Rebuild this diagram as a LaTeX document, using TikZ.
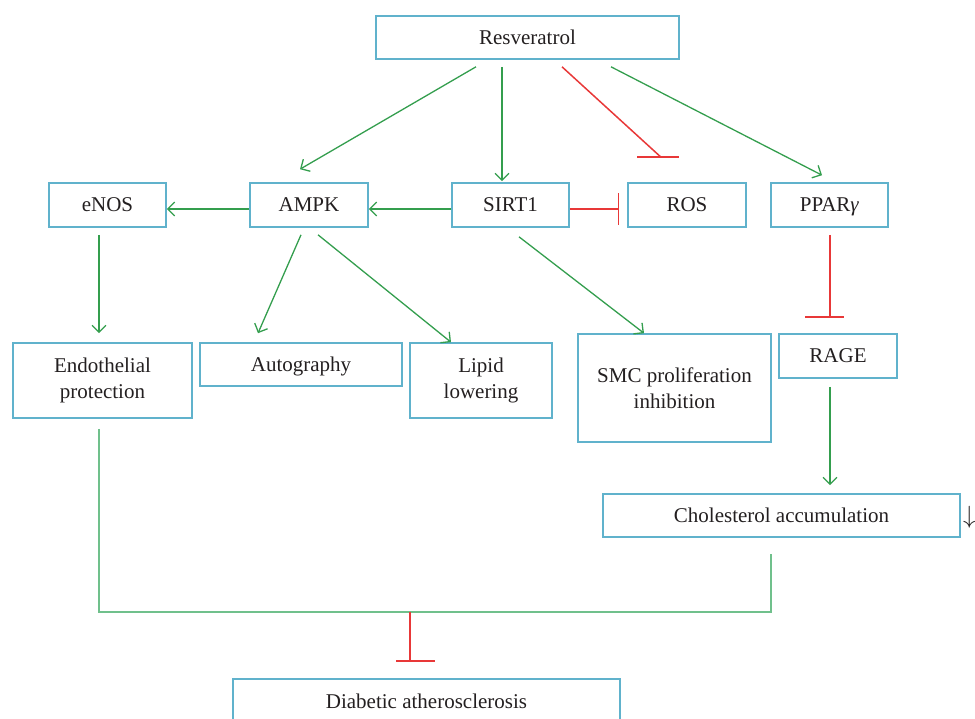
\documentclass[tikz,border=0pt]{standalone}
\usepackage{fontspec}
\setmainfont{Liberation Serif}
\usetikzlibrary{arrows.meta,calc}
\definecolor{boxc}{RGB}{96,178,204}
\definecolor{grn}{RGB}{52,158,78}
\definecolor{grnl}{RGB}{112,192,140}
\definecolor{rd}{RGB}{232,56,56}
\definecolor{txt}{RGB}{35,31,32}
\newcommand{\nodepth}[1]{\raisebox{0pt}[\height][0pt]{#1}}
\tikzset{
  box/.style={draw=boxc, line width=1.6pt, inner sep=0pt, align=center, text=txt,
    font=\fontsize{21}{26}\selectfont},
  ga/.style={draw=grn, line width=1.3pt, -{Straight Barb[length=7pt,width=14pt,line width=1.3pt]}},
  ri/.style={draw=rd, line width=1.5pt},
  rbar/.style={draw=rd, line width=1.5pt, -{Bar[width=32pt,line width=1.5pt]}},
  brk/.style={draw=grnl, line width=2pt},
}
\begin{document}
\begin{tikzpicture}[x=1pt,y=-1pt]
\useasboundingbox (0,0) rectangle (975,718);
\node[box, minimum width=303pt, minimum height=43pt] (res) at (527.5,37.5) {Resveratrol};
\node[box, minimum width=117pt, minimum height=44pt] (enos) at (107.5,205) {eNOS};
\node[box, minimum width=118pt, minimum height=44pt] (ampk) at (309,205) {AMPK};
\node[box, minimum width=117pt, minimum height=44pt] (sirt) at (510.5,205) {SIRT1};
\node[box, minimum width=118pt, minimum height=44pt] (ros) at (687,205) {ROS};
\node[box, minimum width=117pt, minimum height=44pt] (ppar) at (829.5,205) {\nodepth{PPAR\textit{γ}}};
\node[box, minimum width=179pt, minimum height=75pt] (endo) at (102.5,380.5) {Endothelial\\protection};
\node[box, minimum width=202pt, minimum height=43pt] (auto) at (301,364.5) {\nodepth{Autography}};
\node[box, minimum width=142pt, minimum height=75pt] (lipid) at (481,380.5) {Lipid\\lowering};
\node[box, minimum width=193pt, minimum height=108pt] (smc) at (674.5,388) {SMC proliferation\\inhibition};
\node[box, minimum width=118pt, minimum height=44pt] (rage) at (838,356) {RAGE};
\node[box, minimum width=357pt, minimum height=43pt] (chol) at (781.5,515.5) {Cholesterol accumulation};
\node[box, minimum width=387pt, minimum height=44pt] (diab) at (426.5,701) {Diabetic atherosclerosis};
\node[text=txt, font=\fontsize{24}{26}\selectfont, inner sep=0pt, anchor=west] (down) at ($(chol.east)+(2,2)$) {$\downarrow$};

% Resveratrol connectors
\draw[ga] ($(res.south)+(-51.5,7)$) -- ($(ampk.north)+(-9,-13)$);
\draw[ga] ($(res.south)+(-25.5,7)$) -- ($(sirt.north)+(-8.5,-1)$);
\coordinate (rosbar) at ($(ros.north)+(-26,-25)$);
\draw[ri] ($(res.south)+(34.5,7)$) -- (rosbar);
\draw[ri] ($(rosbar)+(-24,0)$) -- ($(rosbar)+(18,0)$);
\draw[ga] ($(res.south)+(83.5,7)$) -- ($(ppar.north)+(-7.5,-7)$);

% horizontal row
\draw[ga] ($(sirt.west)+(0,4)$) -- ($(ampk.east)+(0,4)$);
\draw[ga] ($(ampk.west)+(0,4)$) -- ($(enos.east)+(0,4)$);
\draw[rbar] ($(sirt.east)+(0,4)$) -- ($(ros.west)+(-8,4)$);

% second level
\draw[ga] ($(enos.south)+(-8.5,7)$) -- ($(endo.north)+(-3.5,-9)$);
\draw[ga] ($(ampk.south)+(-8,7)$) -- ($(auto.north)+(-43,-9)$);
\draw[ga] ($(ampk.south)+(9,7)$) -- ($(lipid.north)+(-30,0)$);
\draw[ga] ($(sirt.south)+(8.5,9)$) -- ($(smc.north)+(-30.5,0)$);
\coordinate (ragebar) at ($(rage.north)+(-8,-16)$);
\draw[ri] ($(ppar.south)+(0.5,7)$) -- (ragebar);
\draw[ri] ($(ragebar)+(-25,0)$) -- ($(ragebar)+(14,0)$);
\draw[ga] ($(rage.south)+(-8,8)$) -- ($(chol.north)+(48.5,-8)$);

% bracket
\coordinate (jl) at ($(endo.south)+(-3.5,193)$);
\draw[brk] ($(endo.south)+(-3.5,10)$) -- (jl) -| ($(chol.south)+(-10.5,16)$);
\coordinate (mid) at ($(jl)+(311,0)$);
\coordinate (diabbar) at ($(diab.north)+(-16.5,-17)$);
\draw[ri] (mid) -- (diabbar);
\draw[ri] ($(diabbar)+(-14,0)$) -- ($(diabbar)+(25,0)$);
\end{tikzpicture}
\end{document}
